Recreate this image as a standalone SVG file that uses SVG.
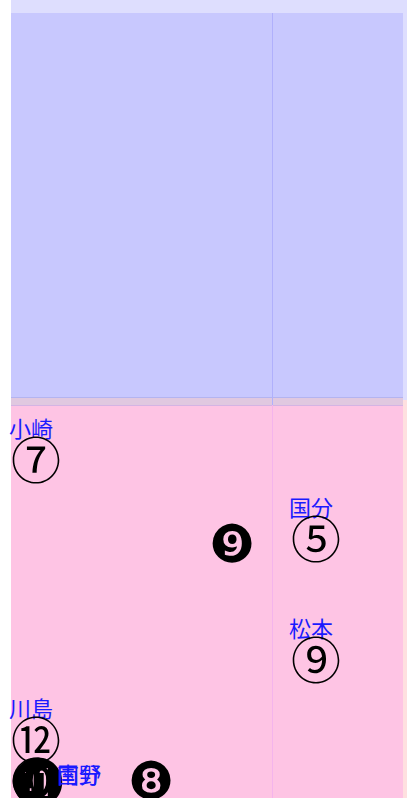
<svg xmlns="http://www.w3.org/2000/svg" width="407" height="798" viewBox="0 0 407 798">
<style>
.lbl{font-family:"Noto Sans CJK JP","Noto Sans CJK SC",sans-serif;font-size:22px;fill:#1a1aff}
.num{font-family:"Noto Sans CJK JP","DejaVu Serif",serif;font-size:50px;fill:#000;text-anchor:middle}
.blk{font-family:"DejaVu Sans","Noto Sans CJK JP",sans-serif;font-size:52px;fill:#000;text-anchor:middle}
</style>
<rect x="0" y="0" width="407" height="798" fill="#ffffff"/>
<rect x="11" y="0" width="396" height="400" fill="#dedefe"/>
<rect x="403" y="400" width="4" height="398" fill="#fee0e0"/>
<rect x="11" y="13" width="392" height="392" fill="#c8c8fe"/>
<rect x="11" y="397" width="392" height="401" fill="#fec4e4"/>
<rect x="11" y="397" width="392" height="8" fill="#e0c8e0"/>
<line x1="11" y1="397.5" x2="403" y2="397.5" stroke="#b4b4f0" stroke-width="1"/>
<line x1="11" y1="405.5" x2="403" y2="405.5" stroke="#d4b4e4" stroke-width="1"/>
<line x1="272.5" y1="13" x2="272.5" y2="405" stroke="#b0b0fc" stroke-width="1"/>
<line x1="272.5" y1="405" x2="272.5" y2="798" stroke="#f4b4ec" stroke-width="1"/>
<g id="n-ozaki"><text class="lbl" x="9" y="437">小崎</text><text class="num" x="36" y="479">⑦</text></g>
<g id="n-kokubu"><text class="lbl" x="289" y="516">国分</text><text class="num" x="316" y="558">⑤</text></g>
<g id="n-matsumoto"><text class="lbl" x="289" y="637">松本</text><text class="num" x="316" y="679">⑨</text></g>
<g id="n-kawashima"><text class="lbl" x="9" y="717">川島</text><text class="num" x="36" y="759">⑫</text></g>
<g id="n-b9"><text class="blk" x="232" y="562">❾</text></g>
<g id="n-b8"><text class="blk" x="151" y="799">❽</text></g>
<g id="n-bottom"><text class="num" x="36" y="800">⑩</text><text class="blk" x="32" y="800">❿</text><text class="blk" x="38" y="802">⓫</text><text class="lbl" x="57" y="783">国分</text><text class="lbl" x="57" y="783">南野</text></g>
<g id="connectors"></g>
</svg>
